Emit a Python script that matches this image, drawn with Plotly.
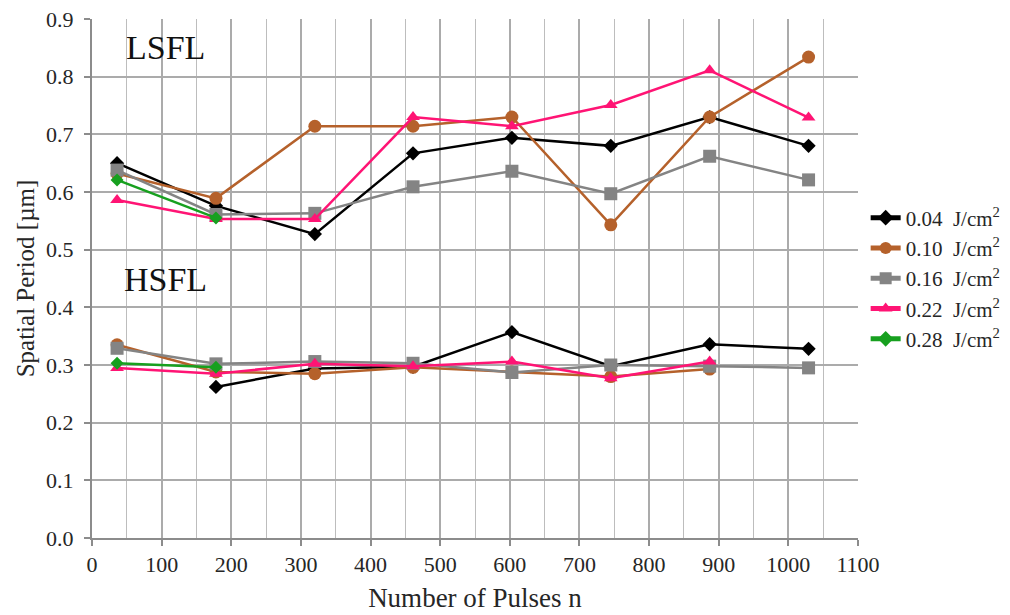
import plotly.graph_objects as go

# Number of laser pulses at which the ripple period was measured
pulses = [36, 178, 320, 461, 603, 745, 887, 1029]

fluences = ["0.04", "0.10", "0.16", "0.22", "0.28"]

# Low spatial frequency LIPSS (LSFL) period, µm
lsfl_004 = [0.650, 0.576, 0.527, 0.667, 0.694, 0.680, 0.730, 0.680]
lsfl_010 = [0.632, 0.589, 0.714, 0.714, 0.730, 0.543, 0.730, 0.834]
lsfl_016 = [0.638, 0.561, 0.563, 0.609, 0.636, 0.597, 0.662, 0.621]
lsfl_022 = [0.586, 0.553, 0.553, 0.730, 0.714, 0.751, 0.811, 0.729]
lsfl_028 = [0.621, 0.555, None, None, None, None, None, None]

# High spatial frequency LIPSS (HSFL) period, µm
hsfl_004 = [None, 0.262, 0.294, 0.297, 0.357, 0.298, 0.336, 0.328]
hsfl_010 = [0.335, 0.288, 0.285, 0.296, 0.288, 0.280, 0.293, None]
hsfl_016 = [0.329, 0.302, 0.306, 0.303, 0.287, 0.300, 0.298, 0.295]
hsfl_022 = [0.295, 0.285, 0.302, 0.298, 0.306, 0.277, 0.306, None]
hsfl_028 = [0.303, 0.296, None, None, None, None, None, None]

lsfl = [lsfl_004, lsfl_010, lsfl_016, lsfl_022, lsfl_028]
hsfl = [hsfl_004, hsfl_010, hsfl_016, hsfl_022, hsfl_028]

colors = ["#000000", "#b5612b", "#848484", "#ff1474", "#17a01f"]
symbols = ["diamond", "circle", "square", "triangle-up", "diamond"]
sizes = [11, 13, 13, 12, 10]

SERIF = "Liberation Serif"
TXT = "#262626"

fig = go.Figure()
for i, f in enumerate(fluences):
    style = dict(
        mode="lines+markers",
        line=dict(color=colors[i], width=2.5),
        marker=dict(symbol=symbols[i], size=sizes[i], color=colors[i]),
        legendgroup=f,
        connectgaps=False,
    )
    fig.add_trace(go.Scatter(x=pulses, y=lsfl[i],
                             name=f + "  J/cm<sup>2</sup>", **style))
    fig.add_trace(go.Scatter(x=pulses, y=hsfl[i],
                             name=f + "  J/cm<sup>2</sup>", showlegend=False, **style))

# Region labels placed in data coordinates
fig.add_annotation(x=106, y=0.851, xref="x", yref="y", text="LSFL",
                   showarrow=False, font=dict(family=SERIF, size=34, color="#111"))
fig.add_annotation(x=106, y=0.448, xref="x", yref="y", text="HSFL",
                   showarrow=False, font=dict(family=SERIF, size=34, color="#111"))

axis_common = dict(
    showline=True, linecolor="#8c8c8c", linewidth=2,
    ticks="outside", ticklen=6, tickcolor="#8c8c8c", tickwidth=1.5,
    gridcolor="#ababab", gridwidth=1.5,
    zeroline=False, mirror=False,
    tickfont=dict(family=SERIF, size=22, color=TXT),
)

fig.update_xaxes(
    range=[0, 1100], dtick=100, tick0=0,
    minor=dict(dtick=50, showgrid=True, gridcolor="#bdbdbd", gridwidth=1.4, ticks=""),
    title=dict(text="Number of Pulses n", font=dict(family=SERIF, size=27, color=TXT),
               standoff=12),
    **axis_common,
)
fig.update_yaxes(
    range=[0, 0.9], dtick=0.1, tick0=0, tickformat=".1f",
    ticklabelstandoff=6,
    title=dict(text="Spatial Period [µm]", font=dict(family=SERIF, size=25, color=TXT),
               standoff=4),
    **axis_common,
)

fig.update_layout(
    width=1010, height=615,
    margin=dict(l=92, r=152, t=19, b=77, autoexpand=False),
    plot_bgcolor="white", paper_bgcolor="white",
    legend=dict(x=1.010, xanchor="left", y=0.5, yanchor="middle",
                font=dict(family=SERIF, size=21, color=TXT),
                bgcolor="rgba(0,0,0,0)", tracegroupgap=0, itemwidth=30,
                itemsizing="constant"),
    showlegend=True,
)

fig.write_html("out.html")
